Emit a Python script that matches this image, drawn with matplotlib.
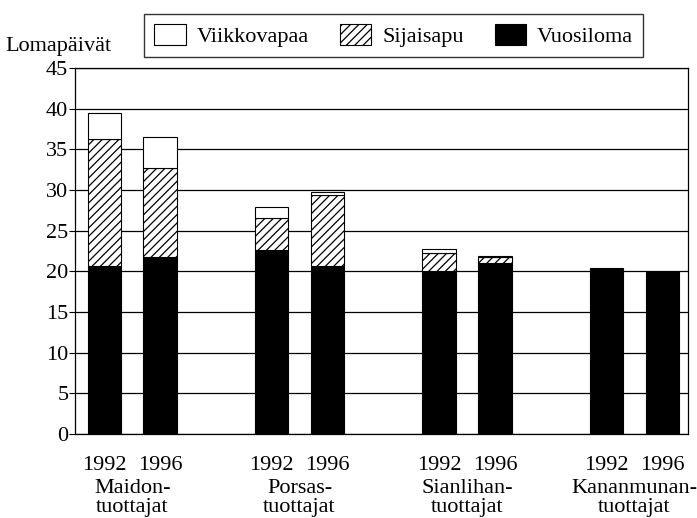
import numpy as np
import matplotlib
matplotlib.use("Agg")
import matplotlib.pyplot as plt
from matplotlib.patches import Patch
from matplotlib.transforms import blended_transform_factory

plt.rcParams['font.family'] = ['Liberation Serif', 'DejaVu Serif']
plt.rcParams['hatch.linewidth'] = 0.9

# Data
ryhmat = ['Maidon-\ntuottajat', 'Porsas-\ntuottajat', 'Sianlihan-\ntuottajat', 'Kananmunan-\ntuottajat']
vuodet = ['1992', '1996']
vuosiloma = [20.6, 21.7, 22.6, 20.6, 20.0, 21.0, 20.2, 19.9]
sijaisapu = [15.7, 11.0, 4.0, 8.8, 2.2, 0.8, 0.1, 0.0]
viikkovapaa = [3.2, 3.8, 1.3, 0.4, 0.5, 0.1, 0.1, 0.0]

vuosiloma = np.array(vuosiloma)
sijaisapu = np.array(sijaisapu)
viikkovapaa = np.array(viikkovapaa)

x = np.array([g * 3 + k for g in range(len(ryhmat)) for k in range(len(vuodet))], dtype=float)
leveys = 0.6
fs = 16

fig = plt.figure(figsize=(6.97, 5.18), dpi=100)
ax = fig.add_axes([0.108, 0.162, 0.879, 0.707])

ax.bar(x, vuosiloma, leveys, color='black', edgecolor='black', linewidth=0.8, zorder=3)
ax.bar(x, sijaisapu, leveys, bottom=vuosiloma, color='white', edgecolor='black',
       hatch='////', linewidth=0.8, zorder=3)
ax.bar(x, viikkovapaa, leveys, bottom=vuosiloma + sijaisapu, color='white',
       edgecolor='black', linewidth=0.8, zorder=3)

ax.set_ylim(0, 45)
ax.set_yticks(np.arange(0, 46, 5))
ax.set_xlim(-0.52, 10.46)
ax.yaxis.grid(True, color='black', linewidth=0.9)
ax.set_axisbelow(True)
ax.tick_params(axis='y', direction='out', length=4, width=0.8, labelsize=fs, pad=1)
ax.tick_params(axis='x', length=0, labelsize=fs, pad=16)
ax.set_xticks(x)
ax.set_xticklabels(vuodet * len(ryhmat))
for s in ax.spines.values():
    s.set_linewidth(0.9)

trans = blended_transform_factory(ax.transData, ax.transAxes)
for g, nimi in enumerate(ryhmat):
    ax.text(g * 3 + 0.5, -0.122, nimi, transform=trans, ha='center', va='top',
            fontsize=fs, linespacing=1.0)

fig.text(0.007, 0.911, 'Lomapäivät', fontsize=fs, va='center', ha='left')

kahvat = [Patch(facecolor='white', edgecolor='black', linewidth=0.8),
          Patch(facecolor='white', edgecolor='black', hatch='////', linewidth=0.8),
          Patch(facecolor='black', edgecolor='black', linewidth=0.8)]
leg = fig.legend(kahvat, ['Viikkovapaa', 'Sijaisapu', 'Vuosiloma'], ncol=3,
                 loc='center', bbox_to_anchor=(0.565, 0.932), fontsize=fs,
                 frameon=True, fancybox=False, edgecolor='black',
                 handlelength=1.4, handleheight=1.1, columnspacing=1.4,
                 borderpad=0.45, handletextpad=0.5)
leg.get_frame().set_linewidth(1.0)

fig.savefig('out.png', dpi=100)
